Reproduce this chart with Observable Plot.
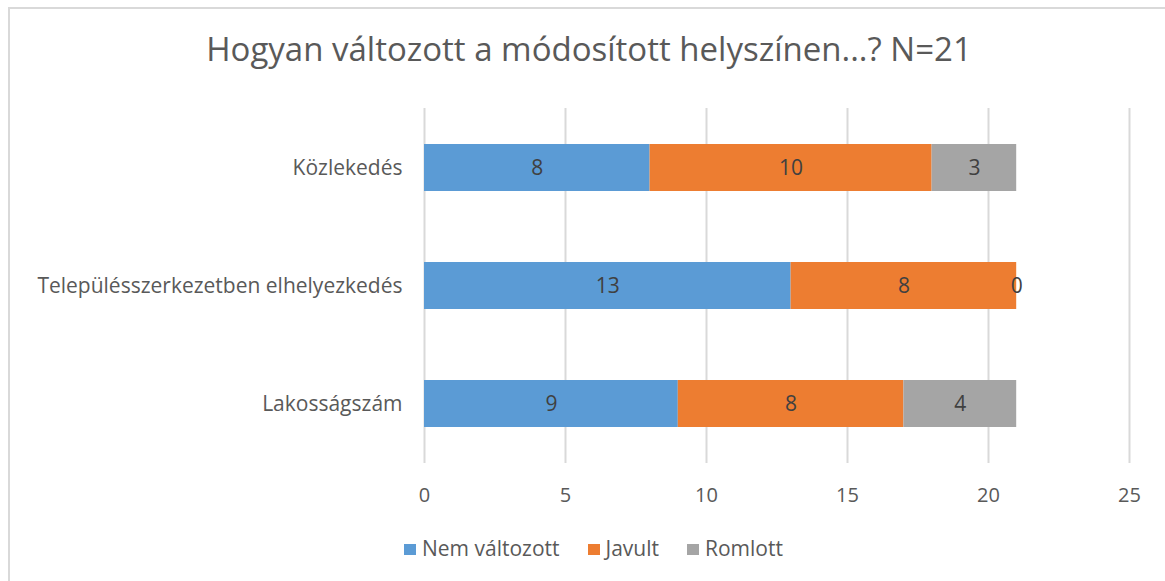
<!DOCTYPE html>
<html>
<head>
<meta charset="utf-8">
<script src="https://cdn.jsdelivr.net/npm/d3@7"></script>
<script src="https://cdn.jsdelivr.net/npm/@observablehq/plot@0.6"></script>
<style>
  html, body { margin: 0; padding: 0; background: #fff; }
  #wrap { position: relative; width: 1165px; height: 581px; overflow: hidden; background: #fff; font-family: "Open Sans", sans-serif; }
  #border { position: absolute; left: 8px; top: 7px; right: 0; bottom: -5px; border-top: 2px solid #d9d9d9; border-left: 2px solid #d9d9d9; }
  #title { position: absolute; left: 0; width: 1178px; top: 26px; text-align: center; font-family: "Open Sans", sans-serif; font-size: 33px; color: #595959; }
  #chart { position: absolute; left: 0; top: 0; }
  #legend { position: absolute; left: 404px; top: 534px; line-height: 28px; font-family: "Open Sans", sans-serif; font-size: 21px; color: #595959; white-space: nowrap; }
  #legend span.item { margin-right: 28px; }
  #legend span.sw { display: inline-block; width: 12px; height: 11px; margin-right: 6px; vertical-align: 1px; }
</style>
</head>
<body>
<div id="wrap">
  <div id="border"></div>
  <div id="chart"></div>
  <div id="title"></div>
  <div id="legend"></div>
</div>
<script>
const titleText = "Hogyan változott a módosított helyszínen...?  N=21";
const categories = ["Közlekedés", "Településszerkezetben elhelyezkedés", "Lakosságszám"];
const seriesNames = ["Nem változott", "Javult", "Romlott"];
const seriesColors = ["#5B9BD5", "#ED7D31", "#A5A5A5"];
const nemValtozott = [8, 13, 9];
const javult = [10, 8, 8];
const romlott = [3, 0, 4];
const xTicks = [0, 5, 10, 15, 20, 25];

const values = [nemValtozott, javult, romlott];
const data = [];
categories.forEach((c, i) => {
  seriesNames.forEach((s, j) => {
    data.push({category: c, series: s, value: values[j][i]});
  });
});

document.getElementById("title").textContent = titleText;

const plot = Plot.plot({
  width: 1165,
  height: 520,
  marginTop: 108,
  marginBottom: 57,
  marginLeft: 424,
  marginRight: 36,
  style: {fontFamily: "Open Sans, sans-serif", fontSize: "20px", color: "#595959", background: "transparent", overflow: "visible"},
  x: {domain: [0, 25], ticks: xTicks, tickSize: 0, tickPadding: 24, label: null, grid: false},
  y: {domain: categories, paddingInner: 0.6, paddingOuter: 0.3, tickSize: 0, tickPadding: 22, label: null},
  color: {domain: seriesNames, range: seriesColors},
  marks: [
    Plot.ruleX(xTicks, {stroke: "#d9d9d9", strokeWidth: 2, strokeOpacity: 1}),
    Plot.barX(data, Plot.stackX({y: "category", x: "value", fill: "series", z: "series", order: seriesNames})),
    Plot.text(data, Plot.stackX({y: "category", x: "value", z: "series", text: d => String(d.value), order: seriesNames, fill: "#404040", fontSize: 21})),
    Plot.axisX({ticks: xTicks, tickSize: 0, tickPadding: 24, fontSize: 20, fill: "#595959", label: null}),
    Plot.axisY({tickSize: 0, tickPadding: 22, fontSize: 21, fill: "#595959", label: null})
  ]
});
document.getElementById("chart").appendChild(plot);

const legend = document.getElementById("legend");
seriesNames.forEach((s, i) => {
  const item = document.createElement("span");
  item.className = "item";
  const sw = document.createElement("span");
  sw.className = "sw";
  sw.style.background = seriesColors[i];
  item.appendChild(sw);
  item.appendChild(document.createTextNode(s));
  legend.appendChild(item);
});
</script>
</body>
</html>
